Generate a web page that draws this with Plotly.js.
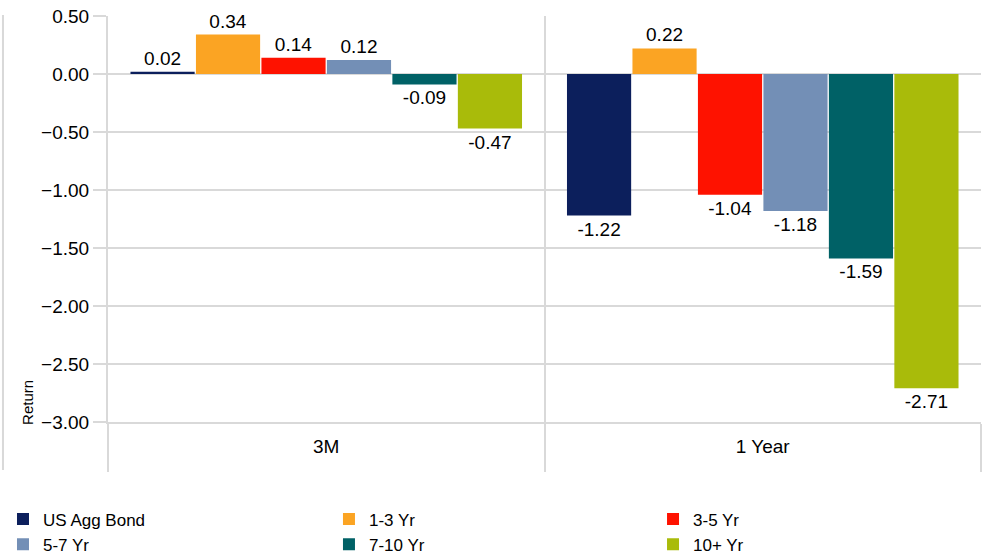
<!DOCTYPE html>
<html>
<head>
<meta charset="utf-8">
<script src="https://cdn.plot.ly/plotly-3.0.1.min.js"></script>
<style>html,body{margin:0;padding:0;background:#fff;}#chart{width:982px;height:557px;}</style>
</head>
<body>
<div id="chart"></div>
<script>
const categories = ["3M", "1 Year"];
const seriesNames = ["US Agg Bond", "1-3 Yr", "3-5 Yr", "5-7 Yr", "7-10 Yr", "10+ Yr"];
const usAggBond = [0.02, -1.22];
const yr1to3 = [0.34, 0.22];
const yr3to5 = [0.14, -1.04];
const yr5to7 = [0.12, -1.18];
const yr7to10 = [-0.09, -1.59];
const yr10plus = [-0.47, -2.71];
const seriesValues = [usAggBond, yr1to3, yr3to5, yr5to7, yr7to10, yr10plus];
const colors = ["#0c1f5c", "#fba423", "#fe1200", "#738fb6", "#006166", "#a9bb0a"];
// legend column for each series (3 columns x 2 rows, as in the reference)
const legendIds = ["legend", "legend2", "legend3", "legend", "legend2", "legend3"];

const FONT = "Liberation Sans, Arial, sans-serif";
const GRID = "#d9d9d9";

const traces = seriesNames.map((name, i) => ({
  type: "bar",
  name: name,
  x: categories,
  y: seriesValues[i],
  legend: legendIds[i],
  marker: {color: colors[i], line: {width: 0}},
  text: seriesValues[i].map(v => v.toFixed(2)),
  textposition: "outside",
  textfont: {family: FONT, size: 19, color: "#000"},
  cliponaxis: false,
  hoverinfo: "skip"
}));

function legendAt(xFrac) {
  return {
    orientation: "v",
    xref: "container",
    yref: "container",
    x: xFrac,
    y: 0.0996,
    xanchor: "left",
    yanchor: "top",
    itemwidth: 30,
    tracegroupgap: 0,
    bgcolor: "rgba(0,0,0,0)",
    font: {family: FONT, size: 17, color: "#000"},
    traceorder: "normal"
  };
}

const layout = {
  width: 982,
  height: 557,
  margin: {l: 108, r: 1, t: 16, b: 135, autoexpand: false},
  paper_bgcolor: "#fff",
  plot_bgcolor: "#fff",
  font: {family: FONT, color: "#000"},
  barmode: "group",
  bargap: 0.1,
  bargroupgap: 0.02,
  showlegend: true,
  xaxis: {
    type: "category",
    tickson: "boundaries",
    ticks: "outside",
    ticklen: 48,
    tickwidth: 2,
    tickcolor: GRID,
    showgrid: true,
    gridcolor: GRID,
    gridwidth: 2,
    showline: true,
    linecolor: GRID,
    linewidth: 2,
    ticklabelstandoff: 6,
    tickfont: {family: FONT, size: 19, color: "#000"},
    fixedrange: true
  },
  yaxis: {
    range: [-3, 0.5],
    dtick: 0.5,
    tick0: 0,
    tickformat: ".2f",
    ticks: "outside",
    ticklen: 13,
    tickwidth: 2,
    tickcolor: GRID,
    showgrid: true,
    gridcolor: GRID,
    gridwidth: 2,
    zeroline: false,
    showline: true,
    linecolor: GRID,
    linewidth: 2,
    tickfont: {family: FONT, size: 19, color: "#000"},
    fixedrange: true
  },
  legend: legendAt(0.00305),
  legend2: legendAt(0.335),
  legend3: legendAt(0.665),
  annotations: [{
    text: "Return",
    xref: "paper",
    yref: "paper",
    x: -0.0916,
    y: 0.047,
    xanchor: "center",
    yanchor: "middle",
    textangle: -90,
    showarrow: false,
    font: {family: FONT, size: 15, color: "#000"}
  }],
  shapes: [{
    type: "line",
    xref: "paper",
    yref: "paper",
    x0: -0.1203, x1: -0.1203,
    y0: 1.0025, y1: -0.118,
    line: {color: GRID, width: 2}
  }]
};

Plotly.newPlot("chart", traces, layout, {displayModeBar: false, staticPlot: true});
</script>
</body>
</html>
